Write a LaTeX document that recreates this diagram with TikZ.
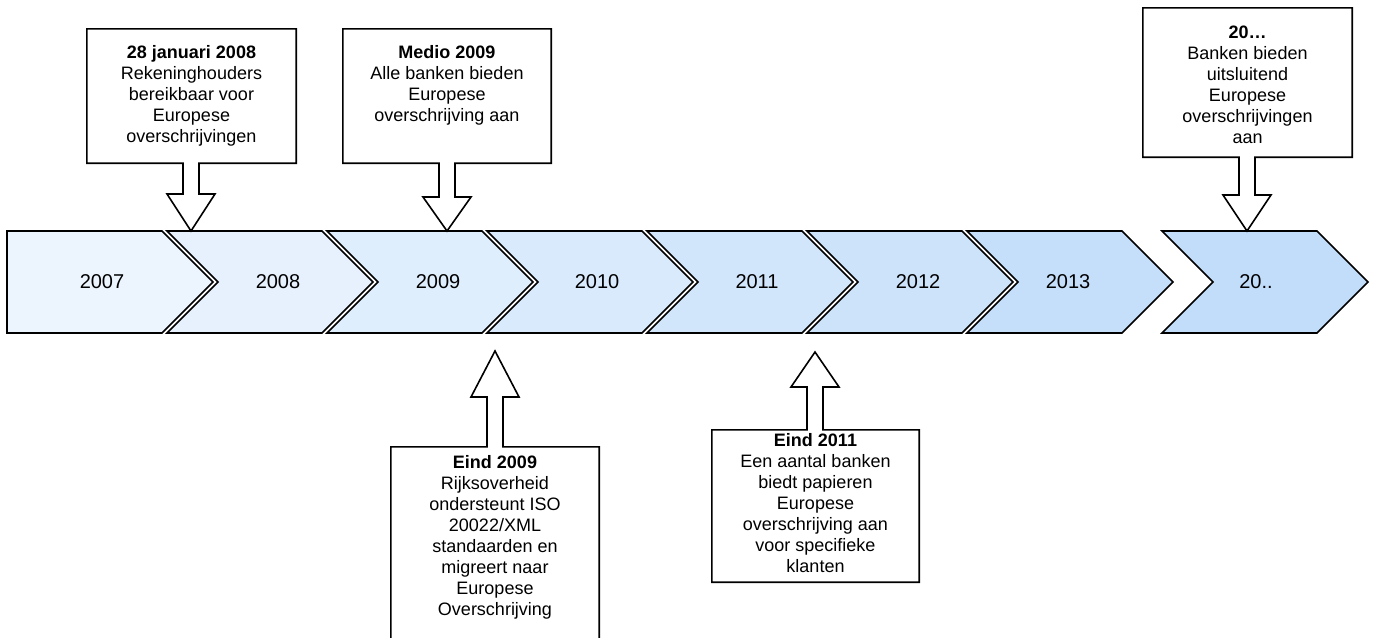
\documentclass[tikz,border=0pt]{standalone}
\usepackage{fontspec}
\setmainfont{Liberation Sans}
\usepackage{tikz}
\usetikzlibrary{calc}
\usetikzlibrary{positioning}

\definecolor{chevlo}{RGB}{236,245,254}
\definecolor{chevhi}{RGB}{190,219,249}

\begin{document}
\begin{tikzpicture}[x=1pt,y=-1pt,
    chevron/.style={draw=black,line width=1.6pt,line join=miter},
    year/.style={font=\fontsize{20}{24}\selectfont},
    box/.style={rectangle,inner sep=0pt},
    note/.style={align=center,inner sep=0pt,font=\fontsize{18}{21}\selectfont},
    callout/.style={draw=black,fill=white,line width=1.6pt,line join=miter}]
  % Constants
  \pgfmathsetmacro\top{231}
  \pgfmathsetmacro\mid{282}
  \pgfmathsetmacro\hw{8}
  \pgfmathsetmacro\hh{24}
  % Boundary
  \path[use as bounding box] (0,0) rectangle (1375,637);
  % Timeline
  \foreach \x/\dep/\p/\lx/\yr [count=\i] in {7/0/0/102/2007, 167/51/14/278/2008,
      327/51/28/438/2009, 487/51/42/597/2010, 647/51/56/757/2011,
      807/51/70/918/2012, 967/51/85/1068/2013, 1162/51/92/1256/20..} {
    \filldraw[chevron,fill=chevhi!\p!chevlo] (\x,\top) -- ++(155,0) -- ++(51,51)
      -- ++(-51,51) -- ++(-155,0) -- ++(\dep,-51) -- cycle;
    \node[year] (y\i) at (\lx,\mid) {\yr};
  }
  % Callouts above
  \node[box,minimum width=209,minimum height=134] (c2008) at (191.5,96) {};
  \coordinate (p2008) at (191,\top);
  \draw[callout] (c2008.north west) -- (c2008.north east) -- (c2008.south east)
    -- ($(c2008.south -| p2008)+(\hw,0)$) -- ($(p2008)+(\hw,-37)$) -- ($(p2008)+(\hh,-37)$)
    -- (p2008) -- ($(p2008)+(-\hh,-37)$) -- ($(p2008)+(-\hw,-37)$)
    -- ($(c2008.south -| p2008)+(-\hw,0)$) -- (c2008.south west) -- cycle;
  \node[note,below=16.5pt of c2008.north] (t2008)
    {\textbf{28 januari 2008}\\Rekeninghouders\\bereikbaar voor\\Europese\\overschrijvingen};

  \node[box,minimum width=208,minimum height=134] (c2009m) at (447,96) {};
  \coordinate (p2009m) at (447,\top);
  \draw[callout] (c2009m.north west) -- (c2009m.north east) -- (c2009m.south east)
    -- ($(c2009m.south -| p2009m)+(\hw,0)$) -- ($(p2009m)+(\hw,-34)$) -- ($(p2009m)+(\hh,-34)$)
    -- (p2009m) -- ($(p2009m)+(-\hh,-34)$) -- ($(p2009m)+(-\hw,-34)$)
    -- ($(c2009m.south -| p2009m)+(-\hw,0)$) -- (c2009m.south west) -- cycle;
  \node[note,below=16.5pt of c2009m.north] (t2009m)
    {\textbf{Medio 2009}\\Alle banken bieden\\Europese\\overschrijving aan};

  \node[box,minimum width=209,minimum height=149] (c20xx) at (1247.5,82.5) {};
  \coordinate (p20xx) at (1247,\top);
  \draw[callout] (c20xx.north west) -- (c20xx.north east) -- (c20xx.south east)
    -- ($(c20xx.south -| p20xx)+(\hw,0)$) -- ($(p20xx)+(\hw,-36)$) -- ($(p20xx)+(\hh,-36)$)
    -- (p20xx) -- ($(p20xx)+(-\hh,-36)$) -- ($(p20xx)+(-\hw,-36)$)
    -- ($(c20xx.south -| p20xx)+(-\hw,0)$) -- (c20xx.south west) -- cycle;
  \node[note,below=17.5pt of c20xx.north] (t20xx)
    {\textbf{20…}\\Banken bieden\\uitsluitend\\Europese\\overschrijvingen\\aan};
  % Callouts below
  \node[box,minimum width=208,minimum height=218] (c2009e) at (495,556) {};
  \coordinate (p2009e) at (495,351);
  \draw[callout] (c2009e.south west) -- (c2009e.south east) -- (c2009e.north east)
    -- ($(c2009e.north -| p2009e)+(\hw,0)$) -- ($(p2009e)+(\hw,46)$) -- ($(p2009e)+(\hh,46)$)
    -- (p2009e) -- ($(p2009e)+(-\hh,46)$) -- ($(p2009e)+(-\hw,46)$)
    -- ($(c2009e.north -| p2009e)+(-\hw,0)$) -- (c2009e.north west) -- cycle;
  \node[note,below=8.5pt of c2009e.north] (t2009e)
    {\textbf{Eind 2009}\\Rijksoverheid\\ondersteunt ISO\\20022/XML\\standaarden en\\migreert naar\\Europese\\Overschrijving};

  \node[box,minimum width=207,minimum height=152] (c2011) at (815.5,506) {};
  \coordinate (p2011) at (815,352);
  \draw[callout] (c2011.south west) -- (c2011.south east) -- (c2011.north east)
    -- ($(c2011.north -| p2011)+(\hw,0)$) -- ($(p2011)+(\hw,35)$) -- ($(p2011)+(\hh,35)$)
    -- (p2011) -- ($(p2011)+(-\hh,35)$) -- ($(p2011)+(-\hw,35)$)
    -- ($(c2011.north -| p2011)+(-\hw,0)$) -- (c2011.north west) -- cycle;
  \node[note,below=3.5pt of c2011.north] (t2011)
    {\textbf{Eind 2011}\\Een aantal banken\\biedt papieren\\Europese\\overschrijving aan\\voor specifieke\\klanten};
\end{tikzpicture}
\end{document}
